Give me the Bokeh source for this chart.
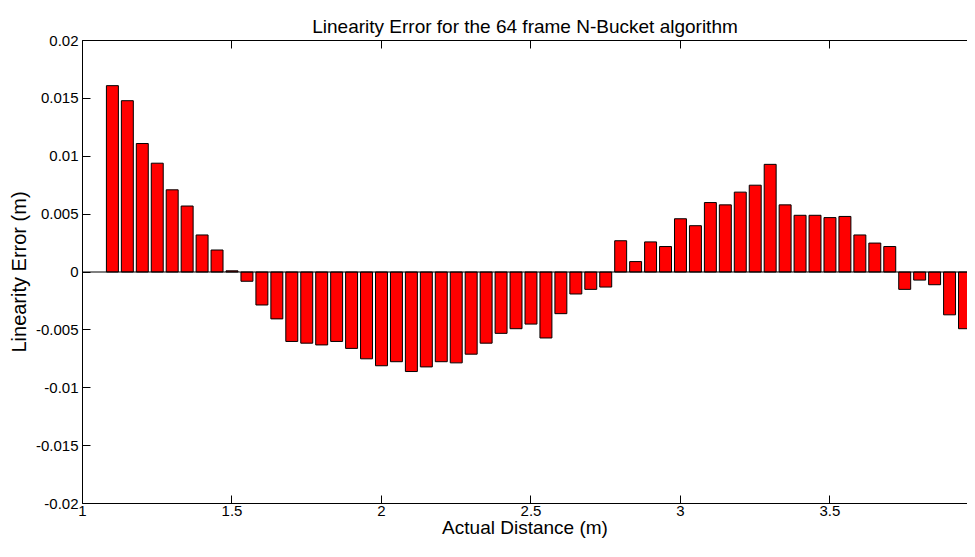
from bokeh.plotting import figure
from bokeh.models import FixedTicker, LinearAxis, Range1d, Span, ColumnDataSource
from bokeh.embed import file_html
from bokeh.resources import INLINE

# ---- data ----
distance = [1.10, 1.15, 1.20, 1.25, 1.30, 1.35, 1.40, 1.45, 1.50,
            1.55, 1.60, 1.65, 1.70, 1.75, 1.80, 1.85, 1.90, 1.95, 2.00,
            2.05, 2.10, 2.15, 2.20, 2.25, 2.30, 2.35, 2.40, 2.45, 2.50,
            2.55, 2.60, 2.65, 2.70, 2.75, 2.80, 2.85, 2.90, 2.95, 3.00,
            3.05, 3.10, 3.15, 3.20, 3.25, 3.30, 3.35, 3.40, 3.45, 3.50,
            3.55, 3.60, 3.65, 3.70, 3.75, 3.80, 3.85, 3.90, 3.95, 4.00]

linearity_error = [0.0161, 0.0148, 0.0111, 0.0094, 0.0071, 0.0057, 0.0032, 0.0019, 0.0001,
                   -0.0008, -0.00285, -0.00405, -0.0060, -0.00615, -0.0063, -0.0060, -0.0066, -0.0075, -0.0081,
                   -0.00775, -0.0086, -0.0082, -0.00775, -0.00785, -0.0071, -0.00615, -0.0053, -0.0049, -0.0045,
                   -0.0057, -0.0036, -0.0019, -0.0015, -0.0013, 0.0027, 0.0009, 0.0026, 0.0022, 0.0046,
                   0.0040, 0.0060, 0.0058, 0.0069, 0.0075, 0.0093, 0.0058, 0.0049, 0.0049, 0.0047,
                   0.0048, 0.0032, 0.0025, 0.0022, -0.0015, -0.0007, -0.0011, -0.0037, -0.0049, -0.0084]

x_ticks = [1.0, 1.5, 2.0, 2.5, 3.0, 3.5, 4.0]
x_tick_labels = ["1", "1.5", "2", "2.5", "3", "3.5", "4"]
y_ticks = [-0.02, -0.015, -0.01, -0.005, 0.0, 0.005, 0.01, 0.015, 0.02]
y_tick_labels = ["-0.02", "-0.015", "-0.01", "-0.005", "0", "0.005", "0.01", "0.015", "0.02"]

title_text = "Linearity Error for the 64 frame N-Bucket algorithm"
x_label = "Actual Distance (m)"
y_label = "Linearity Error (m)"

FONT = "Liberation Sans"

src = ColumnDataSource(dict(x=distance, top=linearity_error))

p = figure(width=967, height=541, output_backend="svg", toolbar_location=None,
           x_range=Range1d(1.0, 3.96), y_range=Range1d(-0.02, 0.02),
           min_border_left=82, min_border_right=0, min_border_top=40, min_border_bottom=38,
           x_axis_label=x_label, y_axis_label=y_label)
p.title.text = title_text
p.title.text_font = FONT
p.title.text_font_size = "19px"
p.title.text_font_style = "normal"
p.title.text_color = "black"
p.title.align = "center"
p.title.standoff = 7
p.title.offset = 6
p.outline_line_color = None
p.grid.visible = False
p.background_fill_color = "white"
p.border_fill_color = "white"

p.vbar(x="x", top="top", bottom=0, width=0.04, source=src,
       fill_color="#ff0000", line_color="black", line_width=1)

p.add_layout(Span(location=0, dimension="width", line_color="black", line_width=1))

for ax, ticks, labels in ((p.xaxis[0], x_ticks, x_tick_labels), (p.yaxis[0], y_ticks, y_tick_labels)):
    ax.ticker = FixedTicker(ticks=ticks)
    ax.major_label_overrides = {t: l for t, l in zip(ticks, labels)}
    ax.major_tick_in = 8
    ax.major_tick_out = 0
    ax.minor_tick_line_color = None
    ax.axis_line_color = "black"
    ax.major_tick_line_color = "black"
    ax.major_label_text_font = FONT
    ax.major_label_text_font_size = "15px"
    ax.major_label_text_color = "black"
    ax.axis_label_text_font = FONT
    ax.axis_label_text_font_size = "19px"
    ax.axis_label_text_font_style = "normal"
    ax.axis_label_text_color = "black"

p.xaxis.major_label_standoff = 2
p.xaxis.axis_label_standoff = -2
p.yaxis.major_label_standoff = 4
p.yaxis.axis_label_standoff = 3
p.yaxis.axis_label_text_font_size = "20px"

top_axis = LinearAxis(ticker=FixedTicker(ticks=x_ticks), major_tick_in=8, major_tick_out=0,
                      minor_tick_line_color=None, major_label_text_font_size="0px",
                      major_label_standoff=0, axis_line_color="black")
top_axis.major_label_text_color = None
p.add_layout(top_axis, "above")

open("out.html", "w").write(file_html(p, INLINE))
